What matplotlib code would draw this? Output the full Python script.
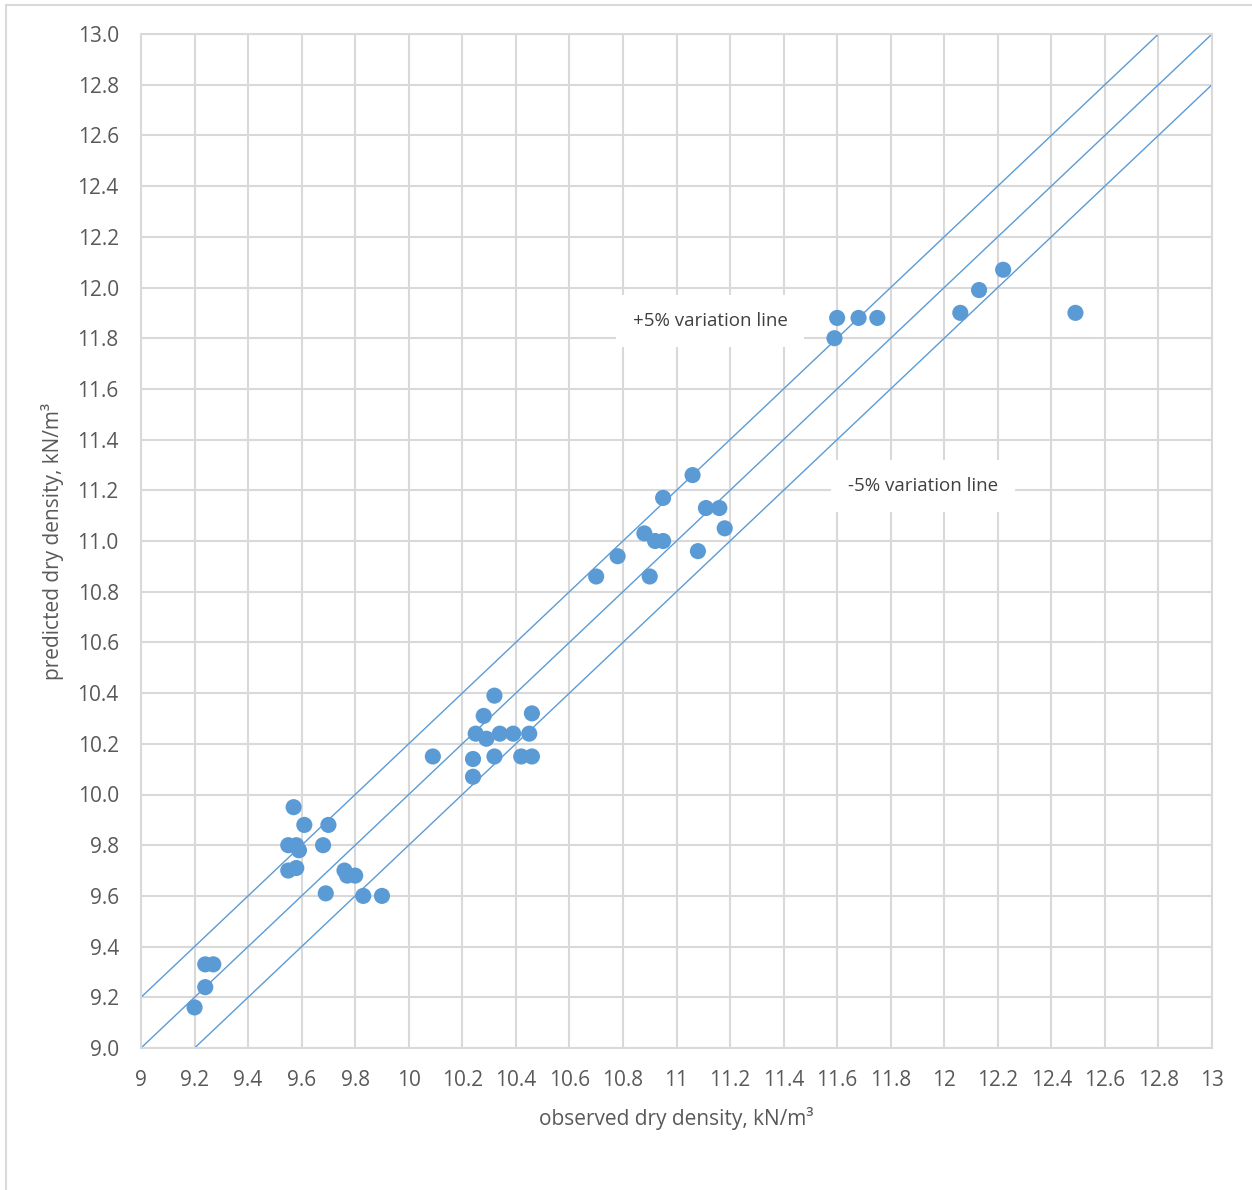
import matplotlib.pyplot as plt
from matplotlib.patches import Rectangle

plt.rcParams['font.family'] = ['Open Sans', 'DejaVu Sans']

observed = [9.20, 9.24, 9.24, 9.27, 9.55, 9.55, 9.57, 9.58, 9.58, 9.59,
            9.61, 9.68, 9.69, 9.70, 9.76, 9.77, 9.80, 9.83, 9.90, 10.09,
            10.24, 10.24, 10.25, 10.28, 10.29, 10.32, 10.32, 10.34, 10.39, 10.42,
            10.45, 10.46, 10.46, 10.70, 10.78, 10.88, 10.90, 10.92, 10.95, 10.95,
            11.06, 11.08, 11.11, 11.16, 11.18, 11.59, 11.60, 11.68, 11.75, 12.06,
            12.13, 12.22, 12.49]
predicted = [9.16, 9.24, 9.33, 9.33, 9.80, 9.70, 9.95, 9.71, 9.80, 9.78,
             9.88, 9.80, 9.61, 9.88, 9.70, 9.68, 9.68, 9.60, 9.60, 10.15,
             10.14, 10.07, 10.24, 10.31, 10.22, 10.39, 10.15, 10.24, 10.24, 10.15,
             10.24, 10.32, 10.15, 10.86, 10.94, 11.03, 10.86, 11.00, 11.00, 11.17,
             11.26, 10.96, 11.13, 11.13, 11.05, 11.80, 11.88, 11.88, 11.88, 11.90,
             11.99, 12.07, 11.90]

# reference lines: equality and the upper/lower variation bands
equal_x = [9, 13]
upper_x = [9, 12.8]
lower_x = [9.2, 13]
offset = 0.2

blue = '#5b9bd5'
grid_gray = '#d9d9d9'
text_gray = '#595959'

fig = plt.figure(figsize=(12.52, 11.90), dpi=100)
ax = fig.add_axes([141 / 1252, 1 - 1048 / 1190, 1071 / 1252, 1014 / 1190])

ax.plot(equal_x, equal_x, color=blue, lw=1, zorder=2)
ax.plot(upper_x, [v + offset for v in upper_x], color=blue, lw=1, zorder=2)
ax.plot(lower_x, [v - offset for v in lower_x], color=blue, lw=1, zorder=2)
ax.scatter(observed, predicted, s=135, color=blue, edgecolors='none', zorder=3)

ax.set_xlim(9, 13)
ax.set_ylim(9, 13)
xt = [9 + 0.2 * i for i in range(21)]
ax.set_xticks(xt)
ax.set_xticklabels(['%g' % round(v, 1) for v in xt])
ax.set_yticks(xt)
ax.set_yticklabels(['%.1f' % v for v in xt])
ax.tick_params(axis='both', length=0, labelsize=15, labelcolor=text_gray)
ax.tick_params(axis='x', pad=16)
ax.tick_params(axis='y', pad=16)
ax.grid(True, color=grid_gray, lw=1.5, zorder=0)
ax.set_axisbelow(True)
for s in ax.spines.values():
    s.set_color(grid_gray)
    s.set_linewidth(1.5)

ax.set_xlabel('observed dry density, kN/m³', fontsize=15, color=text_gray, labelpad=11)
ax.set_ylabel('predicted dry density, kN/m³', fontsize=15, color=text_gray, labelpad=10)

box = dict(facecolor='white', edgecolor='none', pad=12)
ax.text(11.125, 11.868, '+5% variation line', fontsize=13.5, color='#404040',
        ha='center', va='center', bbox=box, zorder=4)
ax.text(11.92, 11.217, '-5% variation line', fontsize=13.5, color='#404040',
        ha='center', va='center', bbox=box, zorder=4)

fig.patches.append(Rectangle((6 / 1252, -0.01), 1.1, 1 - 5 / 1190 + 0.01,
                             transform=fig.transFigure, fill=False,
                             edgecolor=grid_gray, lw=1.5))

fig.savefig('out.png', dpi=100)
